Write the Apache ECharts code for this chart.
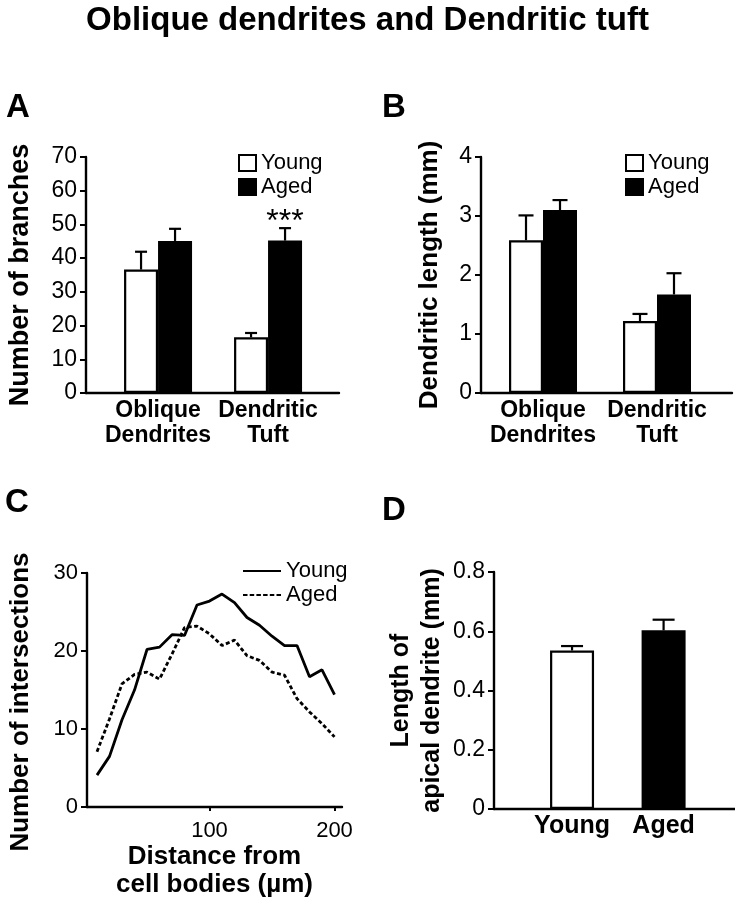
<!DOCTYPE html>
<html>
<head>
<meta charset="utf-8">
<script src="https://cdn.jsdelivr.net/npm/echarts@6/dist/echarts.min.js"></script>
<style>
html,body{margin:0;padding:0;background:#fff;}
#chart{width:735px;height:900px;}
</style>
</head>
<body>
<div id="chart"></div>
<script>
// ---------- data ----------
const groupCats = ['Oblique\nDendrites', 'Dendritic\nTuft'];
const seriesNames = ['Young', 'Aged'];

const branchesYoung = [36.6, 16.5];
const branchesYoungErr = [5.3, 1.3];
const branchesAged = [45.1, 45.2];
const branchesAgedErr = [3.6, 3.7];
const branchesAgedSig = ['', '***'];

const lengthYoung = [2.59, 1.22];
const lengthYoungErr = [0.42, 0.12];
const lengthAged = [3.10, 1.67];
const lengthAgedErr = [0.17, 0.36];

const distance = [10, 20, 30, 40, 50, 60, 70, 80, 90, 100, 110, 120, 130, 140, 150, 160, 170, 180, 190, 200];
const intersectYoung = [4.1, 6.5, 11.2, 15.0, 20.2, 20.5, 22.1, 22.0, 25.9, 26.4, 27.3, 26.2, 24.3, 23.3, 21.9, 20.7, 20.7, 16.7, 17.6, 14.4];
const intersectAged = [7.1, 11.3, 15.8, 17.0, 17.3, 16.4, 19.6, 23.0, 23.2, 22.2, 20.7, 21.4, 19.4, 18.8, 17.3, 16.9, 13.9, 12.2, 10.7, 9.0];

const apicalCats = ['Young', 'Aged'];
const apicalValues = [0.535, 0.603];
const apicalErr = [0.015, 0.036];

const branchesTicks = {min: 0, max: 70, interval: 10};
const lengthTicks = {min: 0, max: 4, interval: 1};
const intersectTicks = {min: 0, max: 30, interval: 10};
const distanceTickValues = [100, 200];
const apicalTicks = {min: 0, max: 0.8, interval: 0.2};

// ---------- style ----------
const FONT = '"Liberation Sans", Arial, Helvetica, sans-serif';
const BLACK = '#000';
const WHITE = '#fff';

function pairs(vals) { return vals.map((v, i) => [i + 1, v]); }

function errSeries(idx, vals, errs, side, barW, capW, sig) {
  return {
    type: 'custom',
    xAxisIndex: idx, yAxisIndex: idx,
    silent: true,
    z: 5,
    data: vals.map((v, i) => [i + 1, v, v + errs[i], i]),
    renderItem: function (params, api) {
      const base = api.coord([api.value(0), api.value(1)]);
      const top = api.coord([api.value(0), api.value(2)]);
      const x = base[0] + side * barW / 2;
      const children = [
        {type: 'line', shape: {x1: x, y1: base[1], x2: x, y2: top[1]}, style: {stroke: BLACK, lineWidth: 2.2}},
        {type: 'line', shape: {x1: x - capW / 2, y1: top[1], x2: x + capW / 2, y2: top[1]}, style: {stroke: BLACK, lineWidth: 2.2}}
      ];
      const s = sig ? sig[api.value(3)] : '';
      if (s) {
        children.push({type: 'text', style: {text: s, x: x, y: top[1] + 10, align: 'center', verticalAlign: 'bottom',
          font: '32px ' + FONT, fill: BLACK}});
      }
      return {type: 'group', children: children};
    }
  };
}

function dashPath(w, dash, gap, h) {
  let p = 'path://';
  for (let x = 0; x < w; x += dash + gap) {
    const d = Math.min(dash, w - x);
    p += 'M' + x + ',0h' + d + 'v' + h + 'h' + (-d) + 'z';
  }
  return p;
}

const axisLineStyle = {show: true, lineStyle: {color: BLACK, width: 2.4}};
const tickLabel = (size) => ({color: BLACK, fontSize: size, fontFamily: FONT, margin: 9});
const yName = (size) => ({color: BLACK, fontSize: size, fontWeight: 'bold', fontFamily: FONT});
const letterStyle = {fontSize: 33, fontWeight: 'bold', color: BLACK, fontFamily: FONT};

const chart = echarts.init(document.getElementById('chart'), null, {renderer: 'canvas'});

const option = {
  backgroundColor: WHITE,
  animation: false,
  title: [
    {text: 'Oblique dendrites and Dendritic tuft', left: 'center', top: 4, padding: 0,
      textStyle: {fontSize: 33, fontWeight: 'bold', color: BLACK, fontFamily: FONT}},
    {text: 'A', left: 6, top: 91, padding: 0, textStyle: letterStyle},
    {text: 'B', left: 382, top: 91, padding: 0, textStyle: letterStyle},
    {text: 'C', left: 5, top: 486, padding: 0, textStyle: letterStyle},
    {text: 'D', left: 382, top: 494, padding: 0, textStyle: letterStyle}
  ],
  legend: [
    {left: 238, top: 152, orient: 'vertical', data: seriesNames, icon: 'rect', itemWidth: 17, itemHeight: 16,
      itemGap: 2, itemTextGap: 5, selectedMode: false, padding: 0,
      textStyle: {fontSize: 22, color: BLACK, fontFamily: FONT, lineHeight: 20}},
    {left: 625, top: 152, orient: 'vertical', data: seriesNames, icon: 'rect', itemWidth: 17, itemHeight: 16,
      itemGap: 2, itemTextGap: 5, selectedMode: false, padding: 0,
      textStyle: {fontSize: 22, color: BLACK, fontFamily: FONT, lineHeight: 20}},
    {left: 243, top: 560, orient: 'vertical', itemWidth: 38, itemHeight: 2.5, itemGap: 2, itemTextGap: 6,
      selectedMode: false, padding: 0,
      data: [
        {name: seriesNames[0], icon: 'path://M0,0h40v2h-40z', itemStyle: {color: BLACK, borderColor: BLACK, borderWidth: 0}},
        {name: seriesNames[1], icon: dashPath(40, 4.5, 2.2, 2), itemStyle: {color: BLACK, borderColor: BLACK, borderWidth: 0}}
      ],
      textStyle: {fontSize: 22, color: BLACK, fontFamily: FONT, lineHeight: 20}}
  ],
  grid: [
    {left: 86, top: 157, width: 253, height: 236},
    {left: 481, top: 157, width: 251, height: 236},
    {left: 87, top: 573, width: 255, height: 236},
    {left: 494, top: 572, width: 241, height: 237}
  ],
  xAxis: [
    {gridIndex: 0, type: 'value', min: 0.345, max: 2.645, axisLine: axisLineStyle, axisTick: {show: false},
      splitLine: {show: false},
      axisLabel: {customValues: [1, 2], formatter: v => groupCats[Math.round(v) - 1], color: BLACK, fontSize: 23,
        fontWeight: 'bold', fontFamily: FONT, lineHeight: 25, margin: 5}},
    {gridIndex: 1, type: 'value', min: 0.456, max: 2.658, axisLine: axisLineStyle, axisTick: {show: false},
      splitLine: {show: false},
      axisLabel: {customValues: [1, 2], formatter: v => groupCats[Math.round(v) - 1], color: BLACK, fontSize: 23,
        fontWeight: 'bold', fontFamily: FONT, lineHeight: 25, margin: 5}},
    {gridIndex: 2, type: 'value', min: 2, max: 206, axisLine: axisLineStyle,
      axisTick: {show: true, customValues: distanceTickValues, length: 4, lineStyle: {color: BLACK, width: 2}},
      splitLine: {show: false},
      axisLabel: Object.assign(tickLabel(22), {customValues: distanceTickValues, margin: 13}),
      name: 'Distance from\ncell bodies (µm)', nameLocation: 'middle', nameGap: 35,
      nameTextStyle: Object.assign(yName(26), {lineHeight: 28, verticalAlign: 'top'})},
    {gridIndex: 3, type: 'value', min: 0.1475, max: 2.78, axisLine: axisLineStyle, axisTick: {show: false},
      splitLine: {show: false},
      axisLabel: {customValues: [1, 2], formatter: v => apicalCats[Math.round(v) - 1], color: BLACK, fontSize: 25,
        fontWeight: 'bold', fontFamily: FONT, margin: 5}}
  ],
  yAxis: [
    Object.assign({gridIndex: 0, type: 'value'}, branchesTicks, {
      axisLine: axisLineStyle, axisTick: {show: true, length: 6, lineStyle: {color: BLACK, width: 2}},
      splitLine: {show: false}, axisLabel: tickLabel(23),
      name: 'Number of branches', nameLocation: 'middle', nameGap: 52, nameTextStyle: yName(27)}),
    Object.assign({gridIndex: 1, type: 'value'}, lengthTicks, {
      axisLine: axisLineStyle, axisTick: {show: true, length: 6, lineStyle: {color: BLACK, width: 2}},
      splitLine: {show: false}, axisLabel: tickLabel(23),
      name: 'Dendritic length (mm)', nameLocation: 'middle', nameGap: 38, nameTextStyle: yName(26)}),
    Object.assign({gridIndex: 2, type: 'value'}, intersectTicks, {
      axisLine: axisLineStyle, axisTick: {show: true, length: 6, lineStyle: {color: BLACK, width: 2}},
      splitLine: {show: false}, axisLabel: tickLabel(22),
      name: 'Number of intersections', nameLocation: 'middle', nameGap: 53,
      nameTextStyle: Object.assign(yName(26), {padding: [0, 24, 0, 0]})}),
    Object.assign({gridIndex: 3, type: 'value'}, apicalTicks, {
      axisLine: axisLineStyle, axisTick: {show: true, length: 6, lineStyle: {color: BLACK, width: 2}},
      splitLine: {show: false}, axisLabel: tickLabel(23),
      name: 'Length of\napical dendrite (mm)', nameLocation: 'middle', nameGap: 46,
      nameTextStyle: Object.assign(yName(25), {lineHeight: 31})})
  ],
  series: [
    {type: 'bar', name: seriesNames[0], xAxisIndex: 0, yAxisIndex: 0, data: pairs(branchesYoung), barWidth: 34, barGap: '0%',
      itemStyle: {color: WHITE, borderColor: BLACK, borderWidth: 2.2}},
    {type: 'bar', name: seriesNames[1], xAxisIndex: 0, yAxisIndex: 0, data: pairs(branchesAged), barWidth: 34, barGap: '0%',
      itemStyle: {color: BLACK, borderColor: BLACK, borderWidth: 2.2}},
    errSeries(0, branchesYoung, branchesYoungErr, -1, 34, 12, null),
    errSeries(0, branchesAged, branchesAgedErr, 1, 34, 12, branchesAgedSig),

    {type: 'bar', name: seriesNames[0], xAxisIndex: 1, yAxisIndex: 1, data: pairs(lengthYoung), barWidth: 34, barGap: '0%',
      itemStyle: {color: WHITE, borderColor: BLACK, borderWidth: 2.2}},
    {type: 'bar', name: seriesNames[1], xAxisIndex: 1, yAxisIndex: 1, data: pairs(lengthAged), barWidth: 34, barGap: '0%',
      itemStyle: {color: BLACK, borderColor: BLACK, borderWidth: 2.2}},
    errSeries(1, lengthYoung, lengthYoungErr, -1, 34, 15, null),
    errSeries(1, lengthAged, lengthAgedErr, 1, 34, 15, null),

    {type: 'line', name: seriesNames[0], xAxisIndex: 2, yAxisIndex: 2, data: distance.map((d, i) => [d, intersectYoung[i]]),
      showSymbol: false, symbol: 'none', lineStyle: {color: BLACK, width: 2.8}, itemStyle: {color: BLACK}},
    {type: 'line', name: seriesNames[1], xAxisIndex: 2, yAxisIndex: 2, data: distance.map((d, i) => [d, intersectAged[i]]),
      showSymbol: false, symbol: 'none', lineStyle: {color: BLACK, width: 2.8, type: [4, 2.5]}, itemStyle: {color: BLACK}},

    {type: 'bar', name: 'apical', xAxisIndex: 3, yAxisIndex: 3, barWidth: 44,
      data: apicalValues.map((v, i) => ({value: [i + 1, v], itemStyle: {color: i === 0 ? WHITE : BLACK}})),
      itemStyle: {borderColor: BLACK, borderWidth: 2.2}},
    errSeries(3, apicalValues, apicalErr, 0, 44, 22, null)
  ]
};
chart.setOption(option);
</script>
</body>
</html>
